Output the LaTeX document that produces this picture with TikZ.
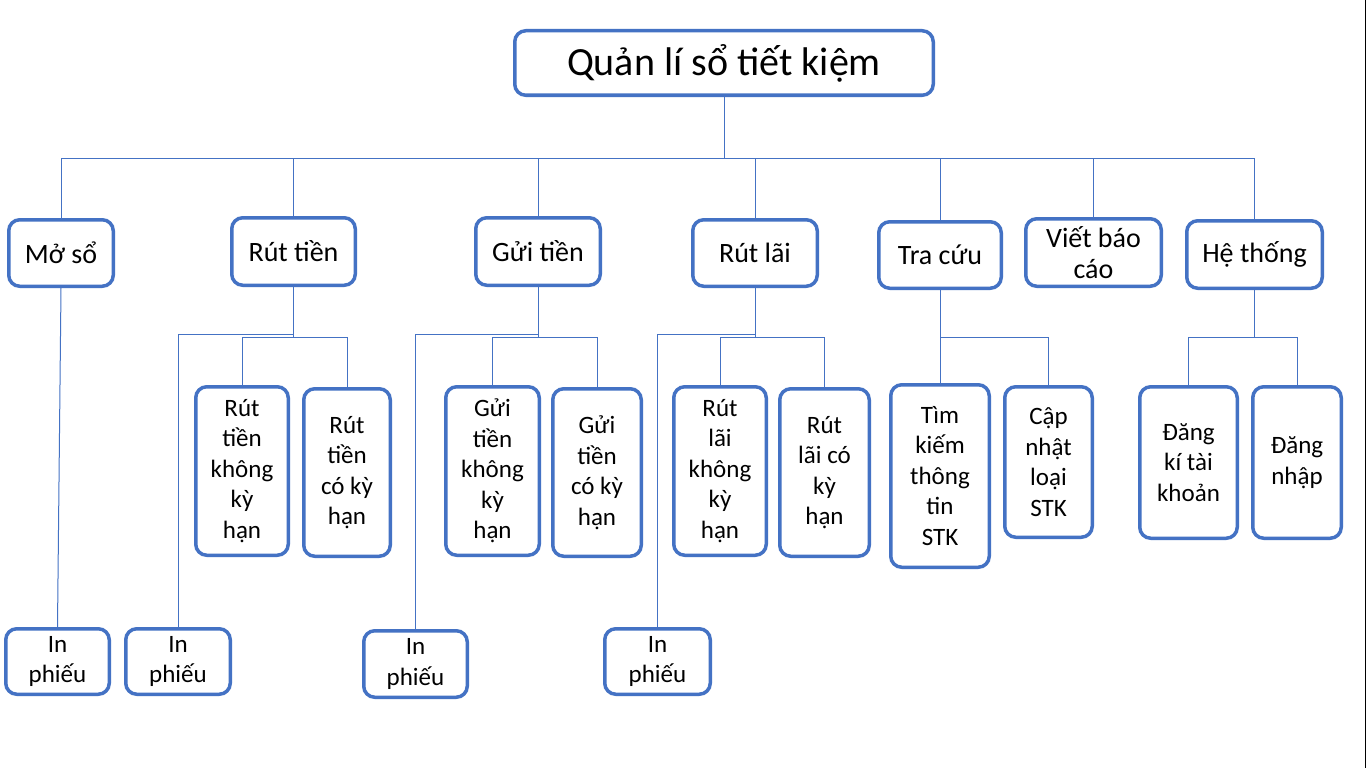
\documentclass[tikz,border=0pt]{standalone}
\usepackage{fontspec}
\setmainfont{Carlito}
\definecolor{boxblue}{HTML}{4472C4}
\tikzset{
  box/.style={draw=boxblue, line width=3.5pt, rounded corners=11pt, fill=white, inner sep=0pt, align=center, text=black},
  lvA/.style={box, font=\fontsize{40}{48}\selectfont},
  lvB/.style={box, font=\fontsize{28}{31}\selectfont},
  lvC/.style={box, font=\fontsize{25}{30.5}\selectfont},
  link/.style={draw=boxblue, line width=1pt},
}
\newcommand\mkbox[7]{\node[#1, minimum width={(#5-#3-3.5)*1pt}, minimum height={(#6-#4-3.5)*1pt}] (#2) at ({(#3+#5)/2},{(#4+#6)/2}) {#7};}
\begin{document}
\begin{tikzpicture}[x=1pt,y=-1pt]
\useasboundingbox (0,0) rectangle (1366,768);
\fill[white] (0,0) rectangle (1366,768);
\fill[black] (1364.5,0) rectangle (1366,768);
% bus levels
\coordinate (busT) at (0,158);
\coordinate (busP) at (0,334.5);
\coordinate (busQ) at (0,337);
% root
\mkbox{lvA}{root}{513}{29}{935}{97}{Quản lí sổ tiết kiệm}
% level 1
\mkbox{lvB}{mo}{7}{218}{115}{288}{Mở sổ}
\mkbox{lvB}{rt}{230}{216}{357}{287}{Rút tiền}
\mkbox{lvB}{gt}{474}{216}{602}{287}{Gửi tiền}
\mkbox{lvB}{rl}{691}{218}{819}{288}{Rút lãi}
\mkbox{lvB}{tc}{877}{220}{1003}{290}{Tra cứu}
\mkbox{lvB}{vb}{1024}{217}{1163}{288}{Viết báo\\cáo}
\mkbox{lvB}{ht}{1185}{219}{1324}{290}{Hệ thống}
% level 2
\mkbox{lvC}{in1}{4}{627}{111}{696}{In\\phiếu}
\mkbox{lvC}{in2}{124}{627}{232}{696}{In\\phiếu}
\mkbox{lvC}{rtk}{194}{385}{290}{557}{Rút\\tiền\\không\\kỳ\\hạn}
\mkbox{lvC}{rtc}{302}{387}{392}{558}{Rút\\tiền\\có kỳ\\hạn}
\mkbox{lvC}{in3}{362}{629}{469}{699}{In\\phiếu}
\mkbox{lvC}{gtk}{444}{385}{541}{557}{Gửi\\tiền\\không\\kỳ\\hạn}
\mkbox{lvC}{gtc}{551}{387}{643}{558}{Gửi\\tiền\\có kỳ\\hạn}
\mkbox{lvC}{in4}{603}{627}{712}{696}{In\\phiếu}
\mkbox{lvC}{rlk}{672}{385}{768}{557}{Rút\\lãi\\không\\kỳ\\hạn}
\mkbox{lvC}{rlc}{778}{387}{871}{558}{Rút\\lãi có\\kỳ\\hạn}
\mkbox{lvC}{tk}{889}{383}{991}{569}{Tìm\\kiếm\\thông\\tin\\STK}
\mkbox{lvC}{cn}{1003}{385}{1094}{539}{Cập\\nhật\\loại\\STK}
\mkbox{lvC}{dk}{1138}{385}{1239}{540}{Đăng\\kí tài\\khoản}
\mkbox{lvC}{dn}{1251}{385}{1343}{540}{Đăng\\nhập}
% connectors level 1
\foreach \c in {mo,rt,gt,rl,tc,vb,ht}{
  \draw[link] (root.south) -- (root.south |- busT) -| (\c.north);
}
% Mở sổ
\draw[link] (mo.south) -- (in1.north);
% Rút tiền
\draw[link] (rt.south) -- (rt.south |- busP) -| (in2.north);
\draw[link] (rt.south) -- (rt.south |- busQ) -| (rtk.north);
\draw[link] (rt.south |- busQ) -| (rtc.north);
% Gửi tiền
\draw[link] (gt.south) -- (gt.south |- busP) -| (in3.north);
\draw[link] (gt.south) -- (gt.south |- busQ) -| (gtk.north);
\draw[link] (gt.south |- busQ) -| (gtc.north);
% Rút lãi
\draw[link] (rl.south) -- (rl.south |- busP) -| (in4.north);
\draw[link] (rl.south) -- (rl.south |- busQ) -| (rlk.north);
\draw[link] (rl.south |- busQ) -| (rlc.north);
% Tra cứu
\draw[link] (tc.south) -- (tk.north);
\draw[link] (tc.south |- busQ) -| (cn.north);
% Hệ thống
\draw[link] (ht.south) -- (ht.south |- busQ) -| (dk.north);
\draw[link] (ht.south |- busQ) -| (dn.north);
\end{tikzpicture}
\end{document}
